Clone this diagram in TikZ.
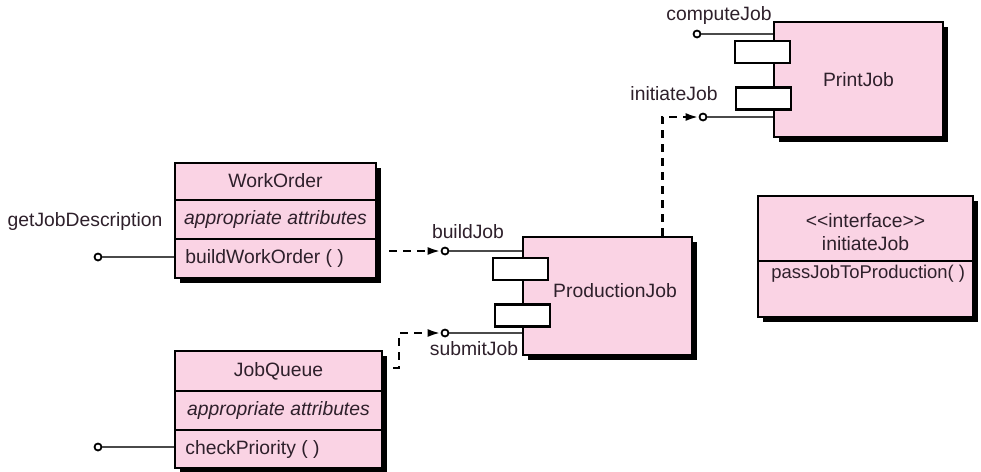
\documentclass[tikz,border=0pt]{standalone}
\usepackage{fontspec}
\setmainfont{Liberation Sans}
\usetikzlibrary{arrows.meta,shadows,calc}
\definecolor{pinkfill}{HTML}{FAD3E4}
\definecolor{txt}{HTML}{2E202B}
\definecolor{wirecol}{HTML}{4A4A4A}
\begin{document}
\begin{tikzpicture}[x=0.02cm,y=-0.02cm,
  font=\fontsize{11}{13}\selectfont, text=txt,
  comp/.style={draw=black, line width=1.2pt, fill=pinkfill, inner sep=0pt,
    drop shadow={shadow xshift=1mm, shadow yshift=-1mm, fill=black, opacity=1}},
  port/.style={draw=black, line width=1.2pt, fill=white, minimum width=1.1cm,
    minimum height=0.44cm, inner sep=0pt},
  lolli/.style={circle, draw=black, line width=1pt, fill=white,
    minimum size=1.4mm, inner sep=0pt},
  wire/.style={draw=wirecol, line width=0.85pt},
  divider/.style={draw=black, line width=1.1pt},
  dep/.style={draw=black, line width=1.4pt, dash pattern=on 1.6mm off 1.2mm,
    -{Latex[length=2.6mm,width=1.6mm]}},
  lbl/.style={inner sep=0pt},
]
\useasboundingbox (0,0) rectangle (981,471);

% ---------------- PrintJob ----------------
\node[comp, minimum width=3.38cm, minimum height=2.3cm] (pj) at (858.5,79.5) {PrintJob};
\node[port] (pjp1) at (762.5,52) {};
\node[port] (pjp2) at (763.5,98.5) {};
\node[lolli] (cjc) at (697,34) {};
\draw[wire] (cjc) -- (cjc -| pj.west);
\node[lolli] (ijc) at (703,117) {};
\draw[wire] (ijc) -- (ijc -| pj.west);
\node[lbl] (cjl) at (719,15) {computeJob};
\node[lbl] (ijl) at (674,94) {initiateJob};

% ---------------- ProductionJob ----------------
\node[comp, minimum width=3.38cm, minimum height=2.36cm] (pjob) at (607.5,296) {};
\node[lbl] (pjobt) at (615,291) {ProductionJob};
\node[port] (pjobp1) at (520.5,269) {};
\node[port] (pjobp2) at (522.5,315.5) {};
\node[lolli] (bjc) at (445,251) {};
\draw[wire] (bjc) -- (bjc -| pjob.west);
\node[lolli] (sjc) at (445,333) {};
\draw[wire] (sjc) -- (sjc -| pjob.west);
\node[lbl] (bjl) at (468,232) {buildJob};
\node[lbl] (sjl) at (474,349) {submitJob};
\draw[dep] ($(pjob.north west)+(140.5,0)$) |- (ijc);

% ---------------- WorkOrder ----------------
\node[comp, minimum width=4.02cm, minimum height=2.3cm] (wo) at (275.5,220.5) {};
\draw[divider] (175,200) -- (376,200);
\draw[divider] (175,239) -- (376,239);
\node[lbl] (wo1) at (275.5,181) {WorkOrder};
\node[lbl] (wo2) at (275.5,219.5) {\itshape appropriate attributes};
\node[lbl, anchor=west] (wo3) at (185,258) {buildWorkOrder ( )};
\node[lolli] (gjc) at (98,257) {};
\draw[wire] (gjc) -- (gjc -| wo.west);
\node[lbl] (gjl) at (85,221) {getJobDescription};
\draw[dep] ($(wo.east |- bjc)+(12,0)$) -- (bjc);

% ---------------- JobQueue ----------------
\node[comp, minimum width=4.14cm, minimum height=2.34cm] (jq) at (278.5,409.5) {};
\draw[divider] (175,391) -- (382,391);
\draw[divider] (175,430) -- (382,430);
\node[lbl] (jq1) at (278.5,371) {JobQueue};
\node[lbl] (jq2) at (278.5,410.5) {\itshape appropriate attributes};
\node[lbl, anchor=west] (jq3) at (185,449) {checkPriority ( )};
\node[lolli] (cpc) at (98,447) {};
\draw[wire] (cpc) -- (cpc -| jq.west);
\draw[dep] ($(jq.north east)+(10,18)$) -- ++(6,0) |- (sjc);

% ---------------- interface ----------------
\node[comp, minimum width=4.3cm, minimum height=2.42cm] (itf) at (865.5,256.5) {};
\draw[divider] (758,261) -- (973,261);
\node[lbl, align=center] (itf1) at (865.5,232) {{<}{<}interface{>}{>}\\initiateJob};
\node[lbl, anchor=west, font=\fontsize{10.5}{12}\selectfont] (itf2) at (771,274) {passJobToProduction( )};
\end{tikzpicture}
\end{document}
